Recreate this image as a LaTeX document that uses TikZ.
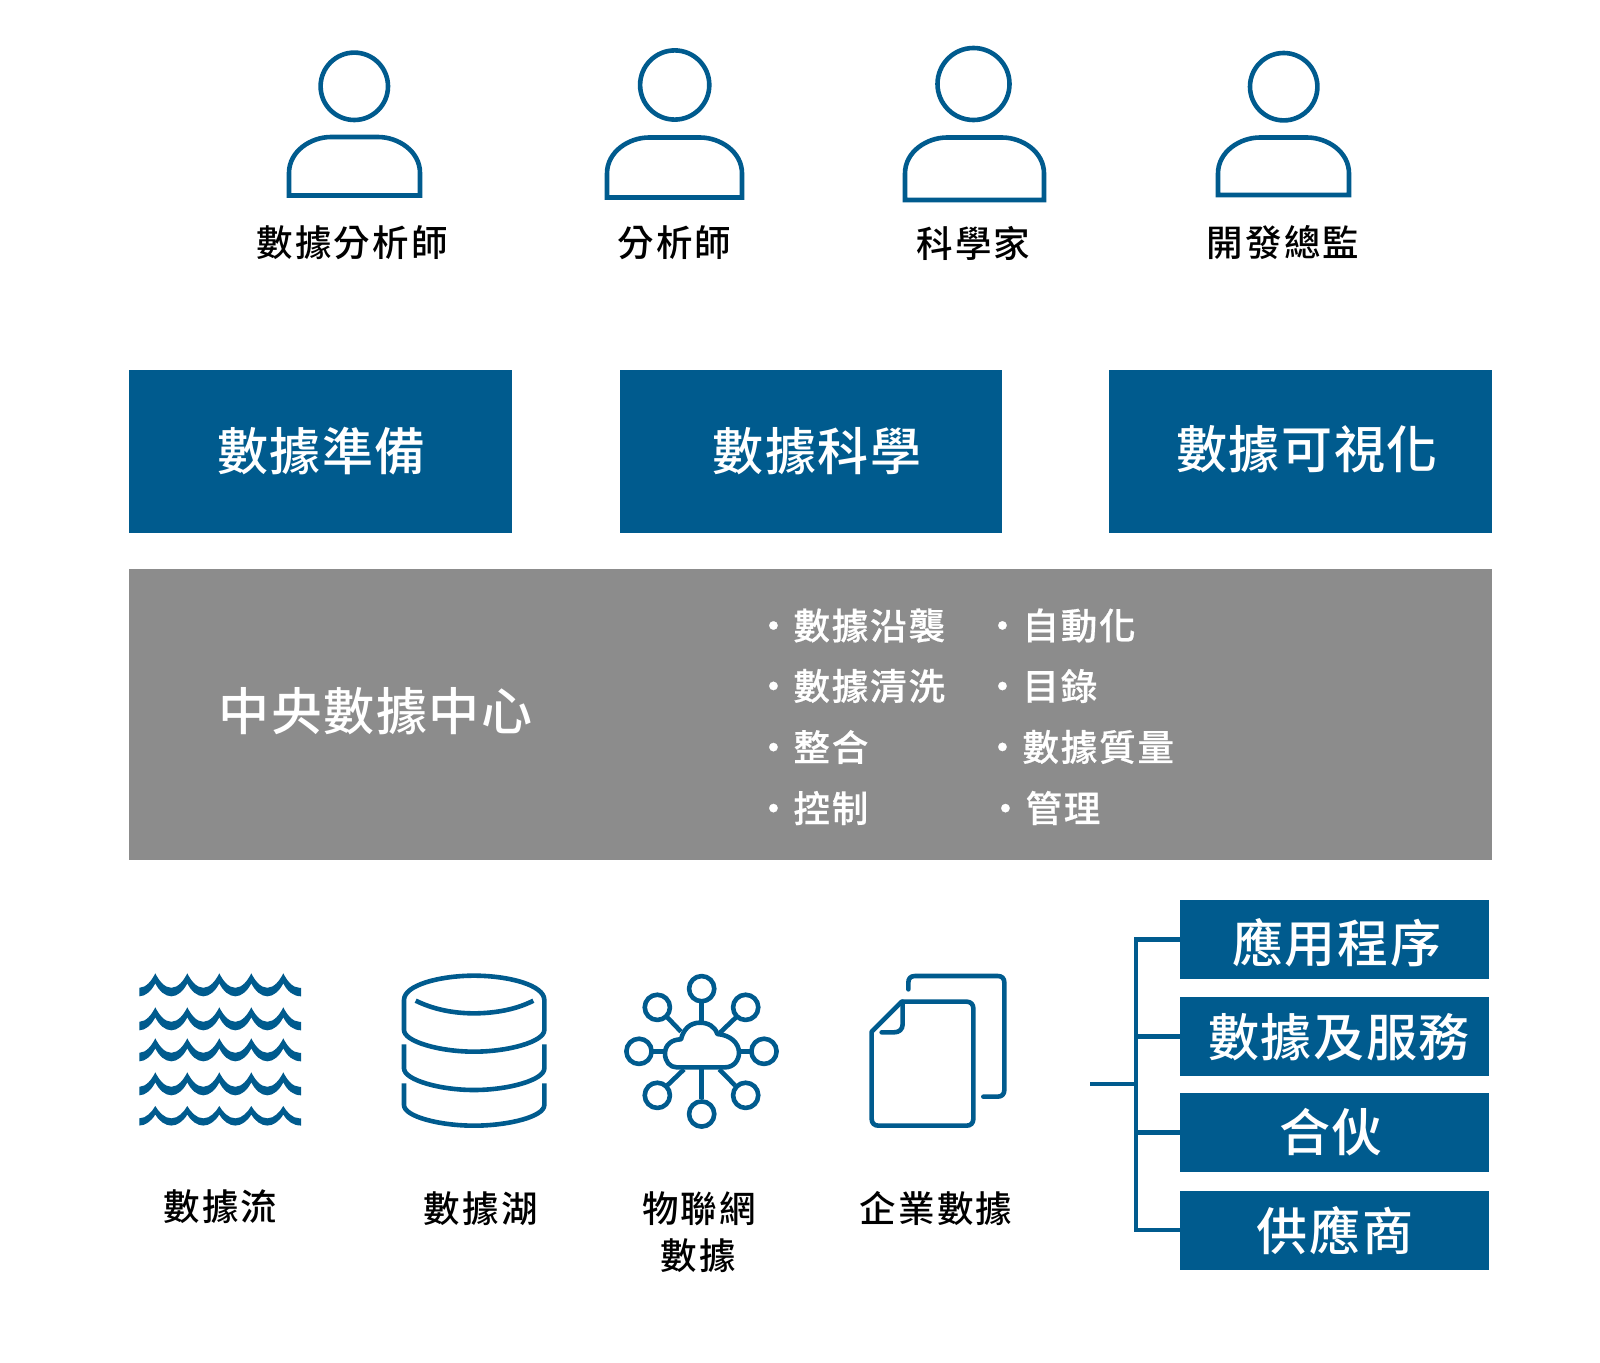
\documentclass[tikz,border=0pt]{standalone}
\usepackage{fontspec}
\setmainfont{Noto Sans CJK TC Medium}
\definecolor{brand}{HTML}{005B8E}
\definecolor{hub}{HTML}{8C8C8C}
\newcommand{\szS}{\fontsize{36.5}{36.5}\selectfont\addfontfeature{LetterSpace=6}}
\newcommand{\szL}{\fontsize{51}{51}\selectfont\addfontfeature{LetterSpace=3}}
\newcommand{\szM}{\fontsize{36.5}{36.5}\selectfont\addfontfeature{LetterSpace=5,FakeBold=0.5}}
\tikzset{
  pt/.style={x=1pt,y=-1pt},
  thick line/.style={draw=brand,line width=4.6pt},
  icon/.style={draw=brand,line width=4.6pt,line cap=round,line join=round},
  bluebox/.style={fill=brand,draw=none,inner sep=0pt,outer sep=0pt,anchor=north west},
  lbl/.style={text=black,inner sep=0pt,font=\szS},
  boxtext/.style={text=white,inner sep=0pt,font=\szL},
  itemtext/.style={text=white,inner sep=0pt,anchor=west,font=\szM},
}
% #1 peak height, #2 vertical factor
\newcommand{\wave}[2]{%
  \fill[brand] (139.3,#1+14.5*#2)
  \foreach \k in {0,1,2,3,4}{
    .. controls ({139.3+32*\k+7},#1+14.5*#2) and ({139.3+32*\k+12.5},#1+7*#2) .. ({139.3+32*\k+16},#1)
    .. controls ({139.3+32*\k+19.5},#1+7*#2) and ({139.3+32*\k+25},#1+14.5*#2) .. ({139.3+32*\k+32},#1+14.5*#2)
  }
  -- (301,#1+14.5*#2) -- (301,#1+23*#2)
  \foreach \k in {4,3,2,1,0}{
    .. controls ({139.3+32*\k+26},#1+23*#2) and ({139.3+32*\k+20},#1+18*#2) .. ({139.3+32*\k+16},#1+10*#2)
    .. controls ({139.3+32*\k+12},#1+18*#2) and ({139.3+32*\k+6},#1+23*#2) .. ({139.3+32*\k},#1+23*#2)
  } -- cycle;}
\newcommand{\person}[7]{% cx cy r  x1 x2 y1 y2
  \draw[thick line] (#1,#2) circle[radius=#3];
  \draw[thick line,line join=miter] (#4,#7) -- (#4,#6+36)
    .. controls (#4,#6+14) and (#4+22,#6) .. (#4+42,#6)
    -- (#5-42,#6) .. controls (#5-22,#6) and (#5,#6+14) .. (#5,#6+36) -- (#5,#7) -- cycle;}
\begin{document}
\begin{tikzpicture}[pt]
\useasboundingbox[fill=white] (0,0) rectangle (1600,1362);
% people
\person{354.3}{86.3}{33.7}{289}{420}{137}{195.5}
\person{674.7}{85}{34.6}{607}{742}{137.5}{197.5}
\person{973.5}{84}{36}{905}{1044}{137.5}{200}
\person{1283.7}{86.7}{33.7}{1218}{1349}{137.5}{195}
\node[lbl] (p1) at (352,243) {數據分析師};
\node[lbl] (p2) at (674.5,243) {分析師};
\node[lbl] (p3) at (973.5,243) {科學家};
\node[lbl] (p4) at (1283,243) {開發總監};
% tool boxes
\node[bluebox,minimum width=382.5pt,minimum height=163pt] (b1) at (129,370) {};
\node[bluebox,minimum width=382pt,minimum height=163pt] (b2) at (619.5,370) {};
\node[bluebox,minimum width=383pt,minimum height=163pt] (b3) at (1109,370) {};
\node[boxtext] (b1t) at (321.4,451) {數據準備};
\node[boxtext] (b2t) at (817,451) {數據科學};
\node[boxtext] (b3t) at (1307,449) {數據可視化};
% hub
\node[fill=hub,inner sep=0pt,outer sep=0pt,anchor=north west,minimum width=1363pt,minimum height=291pt] (hub) at (129,568.5) {};
\node[boxtext] (hubt) at (375.5,711) {中央數據中心};
\node[itemtext] (i1) at (755,625.5) {・數據沿襲};
\node[itemtext] (i2) at (755,686) {・數據清洗};
\node[itemtext] (i3) at (755,747) {・整合};
\node[itemtext] (i4) at (755,808) {・控制};
\node[itemtext] (j1) at (984,625.5) {・自動化};
\node[itemtext] (j2) at (984,686) {・目錄};
\node[itemtext] (j3) at (984,747) {・數據質量};
\node[itemtext] (j4) at (987,808) {・管理};
% waves
\wave{973.3}{1}\wave{1007.3}{1}\wave{1038.3}{1}\wave{1072.3}{1}\wave{1106}{0.85}
% database
\begin{scope}[shift={(120,950)},x=0.33333pt,y=-0.33333pt]
\draw[icon,line cap=butt] (852,150) .. controls (852,105) and (960,77) .. (1062,77) .. controls (1165,77) and (1273,105) .. (1273,150) -- (1273,240) .. controls (1273,275) and (1165,305) .. (1062,305) .. controls (960,305) and (852,275) .. (852,240) -- cycle;
\draw[icon,line cap=butt] (887,152) .. controls (940,178) and (1000,190) .. (1062,190) .. controls (1125,190) and (1190,178) .. (1240,152);
\draw[icon,line cap=butt] (852,283) -- (852,355) .. controls (852,390) and (960,420) .. (1062,420) .. controls (1165,420) and (1273,390) .. (1273,355) -- (1273,283);
\draw[icon,line cap=butt] (852,400) -- (852,465) .. controls (852,500) and (960,527) .. (1062,527) .. controls (1165,527) and (1273,500) .. (1273,465) -- (1273,400);
\end{scope}
% iot and documents
\begin{scope}[shift={(610,950)},x=0.33333pt,y=-0.33333pt]
\foreach \px/\py in {275/116,142/172,407/172,87/304,462/304,142/436,407/436,275/492}
  \draw[icon] (\px,\py) circle[radius=12.6pt];
\draw[icon] (200,352) -- (345,352) .. controls (370,352) and (387,332) .. (387,308) .. controls (387,280) and (362,255) .. (322,252)
  .. controls (315,230) and (295,218) .. (270,218) .. controls (240,218) and (220,238) .. (213,268)
  .. controls (185,268) and (165,285) .. (165,310) .. controls (165,335) and (180,352) .. (200,352) -- cycle;
\draw[icon,line cap=butt] (275,160) -- (275,218);
\draw[icon,line cap=butt] (172,202) -- (213,245);
\draw[icon,line cap=butt] (378,202) -- (330,248);
\draw[icon,line cap=butt] (130,304) -- (165,304);
\draw[icon,line cap=butt] (387,304) -- (420,304);
\draw[icon,line cap=butt] (172,406) -- (222,358);
\draw[icon,line cap=butt] (375,406) -- (328,358);
\draw[icon,line cap=butt] (275,352) -- (275,448);
\draw[icon] (875,155) -- (1070,155) .. controls (1082,155) and (1090,163) .. (1090,175) -- (1090,507) .. controls (1090,519) and (1082,527) .. (1070,527) -- (805,527) .. controls (793,527) and (785,519) .. (785,507) -- (785,245) -- cycle;
\draw[icon] (878,155) -- (878,222) .. controls (878,238) and (868,247) .. (852,247) -- (815,247);
\draw[icon] (895,118) -- (895,98) .. controls (895,85) and (902,78) .. (915,78) -- (1163,78) .. controls (1176,78) and (1183,85) .. (1183,98) -- (1183,420) .. controls (1183,432) and (1176,440) .. (1163,440) -- (1120,440);
\end{scope}
\node[lbl] (s1) at (220.5,1207) {數據流};
\node[lbl] (s2) at (480.6,1209) {數據湖};
\node[lbl] (s3) at (699,1209) {物聯網};
\node[lbl] (s3b) at (698,1256) {數據};
\node[lbl] (s4) at (936,1208.5) {企業數據};
% consumers
\node[bluebox,minimum width=309pt,minimum height=79pt] (c1) at (1180,900) {};
\node[bluebox,minimum width=309pt,minimum height=79pt] (c2) at (1180,997) {};
\node[bluebox,minimum width=309pt,minimum height=79pt] (c3) at (1180,1093) {};
\node[bluebox,minimum width=309pt,minimum height=79pt] (c4) at (1180,1190.5) {};
\node[boxtext] (c1t) at (1336.7,943) {應用程序};
\node[boxtext] (c2t) at (1339,1037) {數據及服務};
\node[boxtext] (c3t) at (1331,1132) {合伙};
\node[boxtext] (c4t) at (1335,1231) {供應商};
\coordinate (bus) at (1136,1084);
\coordinate (stub) at (1090,1084);
\draw[thick line] (stub) -- (bus);
\draw[thick line] (c1.west) -| (bus);
\draw[thick line] (c4.west) -| (bus);
\draw[thick line] (c2.west) -- (c2.west -| bus);
\draw[thick line] (c3.west) -- (c3.west -| bus);
\end{tikzpicture}
\end{document}
